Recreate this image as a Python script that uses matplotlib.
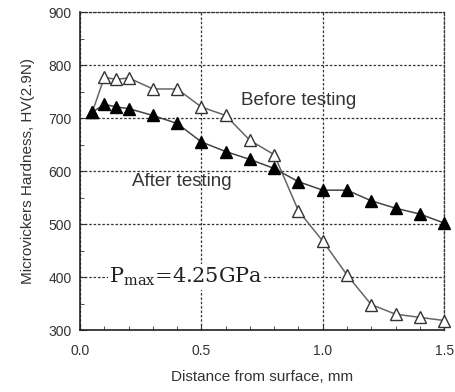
import matplotlib
matplotlib.use("Agg")
import matplotlib.pyplot as plt
from matplotlib.ticker import MultipleLocator

dist = [0.05, 0.1, 0.15, 0.2, 0.3, 0.4, 0.5, 0.6, 0.7, 0.8, 0.9, 1.0, 1.1, 1.2, 1.3, 1.4, 1.5]
before = [711, 777, 773, 776, 755, 755, 721, 705, 658, 631, 525, 468, 404, 348, 330, 324, 318]
after = [711, 726, 721, 718, 705, 690, 655, 637, 622, 605, 580, 564, 564, 544, 530, 519, 502]

xticks = [0.0, 0.5, 1.0, 1.5]
yticks = [300, 400, 500, 600, 700, 800, 900]

plt.rcParams['font.family'] = ['Liberation Sans', 'DejaVu Sans']
fig = plt.figure(figsize=(4.55, 3.92), dpi=100)
ax = fig.add_axes([0.176, 0.158, 0.8, 0.811])

ax.set_xlim(0, 1.5)
ax.set_ylim(300, 900)
ax.set_xticks(xticks)
ax.set_xticklabels(["0.0", "0.5", "1.0", "1.5"])
ax.set_yticks(yticks)
ax.xaxis.set_minor_locator(MultipleLocator(0.1))
ax.yaxis.set_minor_locator(MultipleLocator(50))
ax.tick_params(which='both', direction='in', labelsize=10, colors='#333333', pad=6)
ax.tick_params(axis='x', which='major', pad=10)
ax.tick_params(which='major', length=4)
ax.tick_params(which='minor', length=3)

ax.grid(True, which='major', linestyle=(0, (2, 1.5)), color='#333333', linewidth=0.9)
for s in ['top', 'right']:
    ax.spines[s].set_linestyle((0, (2, 1.5)))
    ax.spines[s].set_color('#333333')
    ax.spines[s].set_linewidth(0.9)
for s in ['left', 'bottom']:
    ax.spines[s].set_linewidth(1.2)
    ax.spines[s].set_color('#222222')

ax.plot(dist, before, color='#666666', lw=1.1, marker='^', ms=8.5,
        mfc='white', mec='#333333', mew=1.0, zorder=3, clip_on=False)
ax.plot(dist, after, color='#444444', lw=1.1, marker='^', ms=8.5,
        mfc='black', mec='black', zorder=4, clip_on=False)

ax.text(0.9, 733, "Before testing", ha='center', va='center', fontsize=13.5, color='#333333')
ax.text(0.42, 580, "After testing", ha='center', va='center', fontsize=13.5, color='#333333')
ax.text(0.12, 400, r"P$_{\mathrm{max}}$=4.25GPa", ha='left', va='center', fontsize=15,
        family='DejaVu Serif', math_fontfamily='dejavuserif', color='#222222',
        bbox=dict(facecolor='white', edgecolor='none', pad=1))

ax.set_xlabel("Distance from surface, mm", fontsize=11, color='#333333', labelpad=9)
ax.set_ylabel("Microvickers Hardness, HV(2.9N)", fontsize=11, color='#333333', labelpad=10)

fig.savefig("out.png", dpi=100)
